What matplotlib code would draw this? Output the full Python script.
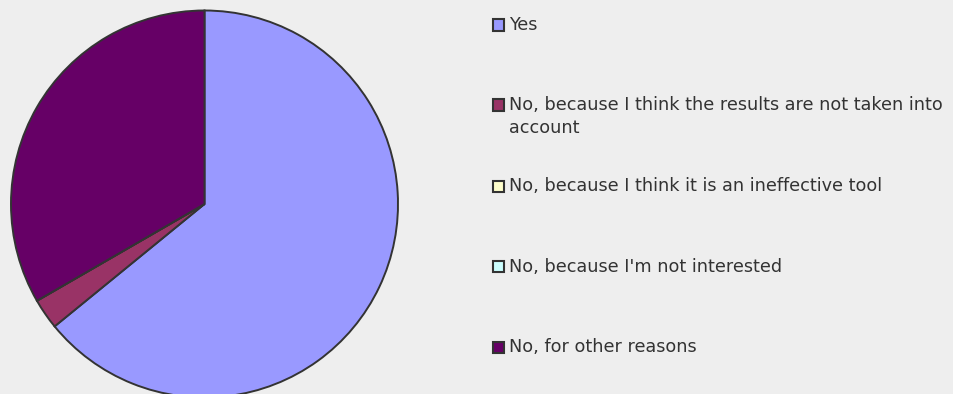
import matplotlib
matplotlib.use("Agg")
import matplotlib.pyplot as plt
from matplotlib.patches import Rectangle

labels = ["Yes",
          "No, because I think the results are not taken into\naccount",
          "No, because I think it is an ineffective tool",
          "No, because I'm not interested",
          "No, for other reasons"]
values = [25, 1, 0, 0, 13]
colors = ["#9999FF", "#993366", "#FFFFCC", "#CCFFFF", "#660066"]

W, H = 954, 394
fig = plt.figure(figsize=(W / 100, H / 100), dpi=100, facecolor="#EEEEEE")

# pie: centre (204.5, 204) px from top-left, radius 193.5 px
cx, cy, r = 204.5, 204, 193.5
ax = fig.add_axes([(cx - r) / W, (H - cy - r) / H, 2 * r / W, 2 * r / H])
ax.set_facecolor("#EEEEEE")
wedges, _ = ax.pie(values, colors=colors, startangle=90, counterclock=False,
                   wedgeprops=dict(edgecolor="#333333", linewidth=1.4))
for w in wedges:
    w.set_clip_on(False)
ax.set_xlim(-1, 1)
ax.set_ylim(-1, 1)
ax.set_aspect("auto")
ax.axis("off")

# legend
row_y = [25, 105, 186, 266.5, 347.5]
for lab, col, y in zip(labels, colors, row_y):
    fig.patches.append(Rectangle((493 / W, 1 - (y + 5.5) / H), 11 / W, 11 / H,
                                 transform=fig.transFigure, facecolor=col,
                                 edgecolor="#333333", linewidth=1.5))
    fig.text(509 / W, 1 - (y - 9) / H, lab, fontsize=12.7, color="#333333",
             family="DejaVu Sans", va="top", ha="left", linespacing=1.38)

fig.savefig("out.png", dpi=100, facecolor="#EEEEEE")
